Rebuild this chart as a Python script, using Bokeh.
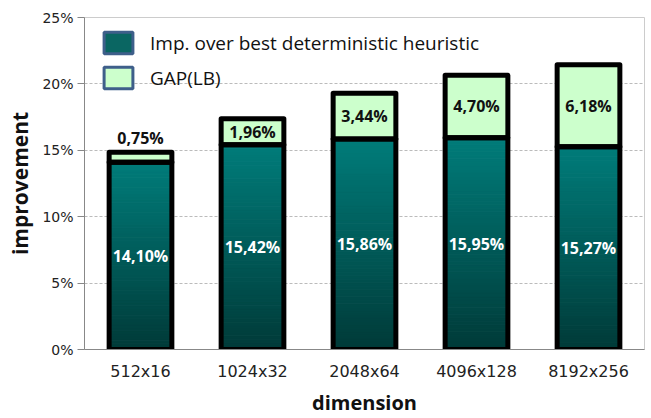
import numpy as np
from bokeh.plotting import figure
from bokeh.models import (ColumnDataSource, Legend, LegendItem, FactorRange,
                          PrintfTickFormatter, FixedTicker)
from bokeh.core.properties import value
from bokeh.embed import file_html
from bokeh.resources import INLINE

# data
dimensions = ["512x16", "1024x32", "2048x64", "4096x128", "8192x256"]
improvement = [14.10, 15.42, 15.86, 15.95, 15.27]
gap_lb = [0.75, 1.96, 3.44, 4.70, 6.18]
y_ticks = [0, 5, 10, 15, 20, 25]

FONT = "Open Sans"
TICK_FONT = "DejaVu Sans"
BAR_W = 0.56
TEAL_TOP = np.array([0, 124, 122])
TEAL_BOTTOM = np.array([0, 58, 56])
GAP_FILL = "#ccffcc"

p = figure(width=651, height=418, x_range=FactorRange(*dimensions),
           y_range=(0, 25), output_backend="svg", toolbar_location=None,
           min_border_left=84, min_border_right=7, min_border_top=17,
           min_border_bottom=67)

# gradient fill of the improvement segment: thin horizontal bands per bar
n_bands = 60
band_x, band_b, band_t, band_c = [], [], [], []
for dim, v in zip(dimensions, improvement):
    edges = np.linspace(0, v, n_bands + 1)
    for k in range(n_bands):
        f = (k + 0.5) / n_bands
        rgb = (TEAL_BOTTOM + (TEAL_TOP - TEAL_BOTTOM) * f).round().astype(int)
        band_x.append(dim)
        band_b.append(edges[k])
        band_t.append(edges[k + 1])
        band_c.append("#%02x%02x%02x" % tuple(rgb))
bands = ColumnDataSource(dict(x=band_x, bottom=band_b, top=band_t, color=band_c))
p.vbar(x="x", bottom="bottom", top="top", width=BAR_W, source=bands,
       fill_color="color", line_color="color", line_width=1)

totals = [a + b for a, b in zip(improvement, gap_lb)]
fmt = lambda v: ("%.2f%%" % v).replace(".", ",")
src = ColumnDataSource(dict(x=dimensions, imp=improvement, gap=gap_lb, total=totals,
                            imp_mid=[v / 2 for v in improvement],
                            imp_lbl=[fmt(v) for v in improvement]))

# GAP(LB) segment and black outlines
p.vbar(x="x", bottom="imp", top="total", width=BAR_W, source=src,
       fill_color=GAP_FILL, line_color="black", line_width=5, line_join="round")
p.vbar(x="x", bottom=0, top="imp", width=BAR_W, source=src,
       fill_color=None, line_color="black", line_width=5, line_join="round")

# value labels
p.text(x="x", y="imp_mid", text="imp_lbl", source=src, text_align="center",
       text_baseline="middle", text_color="white", text_font=value(FONT),
       text_font_style="bold", text_font_size="16px")

inside = [i for i, g in enumerate(gap_lb) if g >= 1.5]
outside = [i for i, g in enumerate(gap_lb) if g < 1.5]
src_in = ColumnDataSource(dict(x=[dimensions[i] for i in inside],
                               y=[improvement[i] + gap_lb[i] / 2 for i in inside],
                               t=[fmt(gap_lb[i]) for i in inside]))
src_out = ColumnDataSource(dict(x=[dimensions[i] for i in outside],
                                y=[totals[i] for i in outside],
                                t=[fmt(gap_lb[i]) for i in outside]))
p.text(x="x", y="y", text="t", source=src_in, text_align="center",
       text_baseline="middle", text_color="#111111", text_font=value(FONT),
       text_font_style="bold", text_font_size="16px")
p.text(x="x", y="y", text="t", source=src_out, text_align="center",
       text_baseline="bottom", y_offset=-3, text_color="#111111",
       text_font=value(FONT), text_font_style="bold", text_font_size="16px")

# legend swatches (not drawn in the plot area, only in the legend)
sw1 = p.rect(x=[dimensions[0]], y=[np.nan], width=1, height=1, fill_color="#0a6662",
             line_color="#3e5f8a", line_width=3, border_radius=6)
sw2 = p.rect(x=[dimensions[0]], y=[np.nan], width=1, height=1, fill_color=GAP_FILL,
             line_color="#3e5f8a", line_width=3, border_radius=6)
legend = Legend(items=[LegendItem(label="Imp. over best deterministic heuristic", renderers=[sw1]),
                       LegendItem(label="GAP(LB)", renderers=[sw2])],
                location=(16, 258), glyph_width=36, glyph_height=27,
                label_text_font=FONT, label_text_font_size="19px",
                label_text_color="#111111", spacing=8, padding=0, margin=0,
                label_standoff=14, border_line_color=None,
                background_fill_alpha=0)
p.add_layout(legend)

# axes and grid
p.yaxis.ticker = FixedTicker(ticks=y_ticks)
p.yaxis.formatter = PrintfTickFormatter(format="%d%%")
p.yaxis.axis_label = "improvement"
p.xaxis.axis_label = "dimension"
for ax in (p.xaxis, p.yaxis):
    ax.axis_label_text_font = FONT
    ax.axis_label_text_font_style = "bold"
    ax.axis_label_text_color = "#111111"
    ax.major_label_text_font = TICK_FONT
    ax.major_label_text_color = "#222222"
    ax.axis_line_color = "#888888"
    ax.minor_tick_line_color = None
    ax.minor_tick_out = 0
p.xaxis.axis_label_text_font_size = "20px"
p.yaxis.axis_label_text_font_size = "21px"
p.yaxis.major_label_text_font_size = "14px"
p.xaxis.major_label_text_font_size = "16px"
p.yaxis.major_tick_line_color = "#888888"
p.yaxis.major_tick_out = 7
p.yaxis.major_tick_in = 0
p.yaxis.major_label_standoff = 4
p.xaxis.major_tick_line_color = None
p.xaxis.major_tick_out = 0
p.xaxis.major_tick_in = 0
p.xaxis.major_label_standoff = 12
p.xaxis.axis_label_standoff = 5
p.yaxis.axis_label_standoff = 5

p.xgrid.grid_line_color = None
p.ygrid.grid_line_color = "#bbbbbb"
p.ygrid.grid_line_dash = "3 2"
p.outline_line_color = "#cccccc"
p.x_range.range_padding = 0
p.x_range.factor_padding = 0

open("out.html", "w").write(file_html(p, INLINE))
